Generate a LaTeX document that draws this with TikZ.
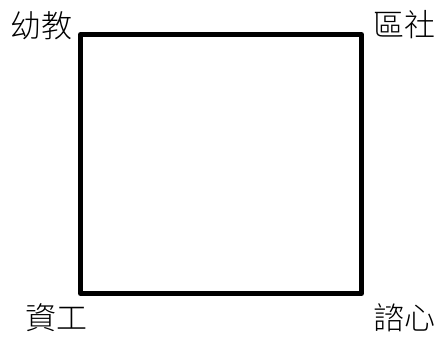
\documentclass[tikz,border=0pt]{standalone}
\usepackage{fontspec}
\newfontfamily\cjk{Noto Sans CJK TC Light}
\begin{document}
\begin{tikzpicture}[x=1pt,y=-1pt,
  lbl/.style={font=\cjk\fontsize{31}{32}\selectfont, inner sep=0pt, anchor=center},
  frame/.style={draw=black, line width=5pt, line join=round}]
\useasboundingbox (0,0) rectangle (440,338);
\coordinate (tl) at (80.5,34.5);
\coordinate (br) at (361.5,293.5);
\draw[frame] (tl) rectangle (br);
\node[lbl] (a) at (41,26) {幼教};
\node[lbl] (b) at (404,25) {區社};
\node[lbl] (c) at (57,318) {資工};
\node[lbl] (d) at (404,318) {諮心};
\end{tikzpicture}
\end{document}
